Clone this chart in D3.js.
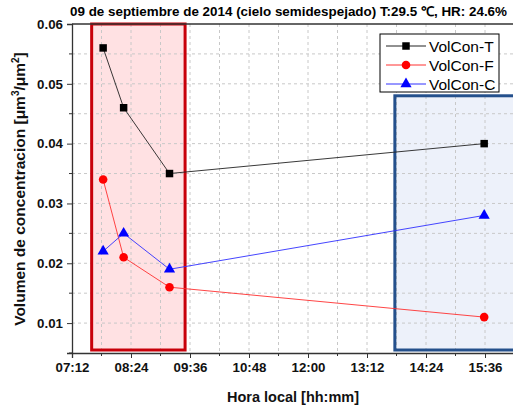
<!DOCTYPE html>
<html>
<head>
<meta charset="utf-8">
<script src="https://cdn.jsdelivr.net/npm/d3@7"></script>
<style>
  html, body { margin: 0; padding: 0; background: #fff; overflow: hidden; }
  svg { display: block; font-family: Arial, "Liberation Sans", sans-serif; }
</style>
</head>
<body>
<svg id="chart" width="513" height="409"></svg>
<script>
// Measurement times (local time, hh:mm)
const times = ["07:50", "08:15", "09:11", "15:35"];
// Concentration volume series [µm³/µm²]
const volConT = [0.056, 0.046, 0.035, 0.040];
const volConF = [0.034, 0.021, 0.016, 0.011];
const volConC = [0.022, 0.025, 0.019, 0.028];
const seriesNames = ["VolCon-T", "VolCon-F", "VolCon-C"];

// Axis ticks
const xTickLabels = ["07:12", "08:24", "09:36", "10:48", "12:00", "13:12", "14:24", "15:36"];
const yTickValues = [0.01, 0.02, 0.03, 0.04, 0.05, 0.06];

// Highlighted time windows: [start, end, low value, high value]
const morningWindow = ["07:36", "09:30", 0.0055, 0.06];
const afternoonWindow = ["13:46", "16:40", 0.0055, 0.048];

const toMin = s => { const [h, m] = s.split(":").map(Number); return h * 60 + m; };
const fmt = m => String(Math.floor(m / 60)).padStart(2, "0") + ":" + String(m % 60).padStart(2, "0");

const svg = d3.select("#chart");
const plotLeft = 72, plotTop = 24, plotBottom = 353;
const pxPerMin = 59 / 72;

const x = d3.scaleLinear().domain([toMin("07:12"), toMin("16:48")])
  .range([plotLeft, plotLeft + (toMin("16:48") - toMin("07:12")) * pxPerMin]);
const y = d3.scaleLinear().domain([0.005, 0.06]).range([plotBottom, plotTop]);

const majorX = xTickLabels.map(toMin).concat([toMin("16:48")]);
const minorX = d3.range(toMin("07:12"), toMin("16:48") + 1, 36);
const minorY = d3.range(0.005, 0.0601, 0.005).map(v => +v.toFixed(3));

// Window fills; the border is added later so it sits above the grid
function windowRect(w, fill, stroke) {
  const g = svg.append("g");
  const attrs = sel => sel
    .attr("x", x(toMin(w[0]))).attr("y", y(w[3]))
    .attr("width", x(toMin(w[1])) - x(toMin(w[0])))
    .attr("height", y(w[2]) - y(w[3]));
  g.append("rect").call(attrs).attr("fill", fill).attr("stroke", "none");
  return () => svg.append("rect").call(attrs)
    .attr("fill", "none").attr("stroke", stroke).attr("stroke-width", 3);
}
const borderM = windowRect(morningWindow, "#ffe1e3", "#c8000a");
const borderA = windowRect(afternoonWindow, "#edf1fa", "#24508c");

// Dashed grid
const grid = svg.append("g").attr("stroke", "#c8c8c8").attr("stroke-dasharray", "3,3").attr("stroke-width", 1);
minorX.filter(m => x(m) > plotLeft + 1).forEach(m => {
  grid.append("line").attr("x1", x(m)).attr("x2", x(m)).attr("y1", plotTop).attr("y2", plotBottom);
});
minorY.filter(v => y(v) < plotBottom - 1 && y(v) > plotTop + 1).forEach(v => {
  grid.append("line").attr("x1", plotLeft).attr("x2", 513).attr("y1", y(v)).attr("y2", y(v));
});

borderM();
borderA();

// Axes
const xAxis = d3.axisBottom(x).tickValues(xTickLabels.map(toMin)).tickFormat(fmt).tickSize(5).tickPadding(5);
const gx = svg.append("g").attr("transform", `translate(0,${plotBottom})`).call(xAxis);
gx.append("g").selectAll("line").data(minorX.filter(m => !majorX.includes(m))).join("line")
  .attr("x1", d => x(d)).attr("x2", d => x(d)).attr("y1", 0).attr("y2", 3).attr("stroke", "#333");

const yAxis = d3.axisLeft(y).tickValues(yTickValues).tickFormat(d3.format(".2f")).tickSize(5).tickPadding(4);
const gy = svg.append("g").attr("transform", `translate(${plotLeft},0)`).call(yAxis);
gy.append("g").selectAll("line").data(minorY.filter(v => !yTickValues.includes(v))).join("line")
  .attr("x1", 0).attr("x2", -3).attr("y1", d => y(d)).attr("y2", d => y(d)).attr("stroke", "#333");

[gx, gy].forEach(g => {
  g.attr("font-family", "Arial, 'Liberation Sans', sans-serif");
  g.select(".domain").attr("stroke", "#333").attr("stroke-width", 1.3);
  g.selectAll(".tick line").attr("stroke", "#333");
  g.selectAll("text").attr("font-size", 13.3).attr("font-weight", "bold").attr("fill", "#111");
});
// top frame line
svg.append("line").attr("x1", plotLeft).attr("x2", 513).attr("y1", plotTop).attr("y2", plotTop)
  .attr("stroke", "#333").attr("stroke-width", 1.3);

// Series
const series = [
  { name: seriesNames[0], values: volConT, line: "#222", color: "#000", shape: d3.symbolSquare, size: 56 },
  { name: seriesNames[1], values: volConF, line: "#ff3030", color: "#ff0000", shape: d3.symbolCircle, size: 58 },
  { name: seriesNames[2], values: volConC, line: "#3030ff", color: "#0000ff", shape: d3.symbolTriangle, size: 54 }
];
const line = d3.line().x(d => x(toMin(d[0]))).y(d => y(d[1]));
series.forEach(s => {
  const pts = times.map((t, i) => [t, s.values[i]]);
  svg.append("path").datum(pts).attr("d", line).attr("fill", "none")
    .attr("stroke", s.line).attr("stroke-width", 0.9);
  svg.append("g").selectAll("path").data(pts).join("path")
    .attr("transform", d => `translate(${x(toMin(d[0]))},${y(d[1])})`)
    .attr("d", d3.symbol(s.shape, s.size)).attr("fill", s.color);
});

// Legend
const lg = svg.append("g").attr("transform", "translate(380,34)");
lg.append("rect").attr("width", 119).attr("height", 58).attr("fill", "#fff").attr("stroke", "#000").attr("stroke-width", 1);
series.forEach((s, i) => {
  const cy = 12 + i * 19;
  lg.append("line").attr("x1", 6).attr("x2", 46).attr("y1", cy).attr("y2", cy).attr("stroke", s.line).attr("stroke-width", 1);
  lg.append("path").attr("transform", `translate(26,${cy})`).attr("d", d3.symbol(s.shape, s.size)).attr("fill", s.color);
  lg.append("text").attr("x", 49).attr("y", cy + 5.5).attr("font-size", 15.5).attr("fill", "#000").text(s.name);
});

// Titles
svg.append("text").attr("x", 70).attr("y", 16).attr("font-size", 13.3).attr("font-weight", "bold").attr("fill", "#000")
  .attr("textLength", 437).attr("lengthAdjust", "spacingAndGlyphs")
  .text("09 de septiembre de 2014 (cielo semidespejado) T:29.5 \u2103, HR: 24.6%");
svg.append("text").attr("x", 293).attr("y", 402).attr("text-anchor", "middle")
  .attr("font-size", 14.5).attr("font-weight", "bold").attr("fill", "#111").text("Hora local [hh:mm]");
const yl = svg.append("text").attr("transform", "translate(25,189) rotate(-90)").attr("text-anchor", "middle")
  .attr("font-size", 15.5).attr("font-weight", "bold").attr("fill", "#111");
yl.append("tspan").text("Volumen de concentracion [\u03bcm");
yl.append("tspan").attr("font-size", 10).attr("dy", -6).text("3");
yl.append("tspan").attr("dy", 6).text("/\u03bcm");
yl.append("tspan").attr("font-size", 10).attr("dy", -6).text("2");
yl.append("tspan").attr("dy", 6).text("]");
</script>
</body>
</html>
